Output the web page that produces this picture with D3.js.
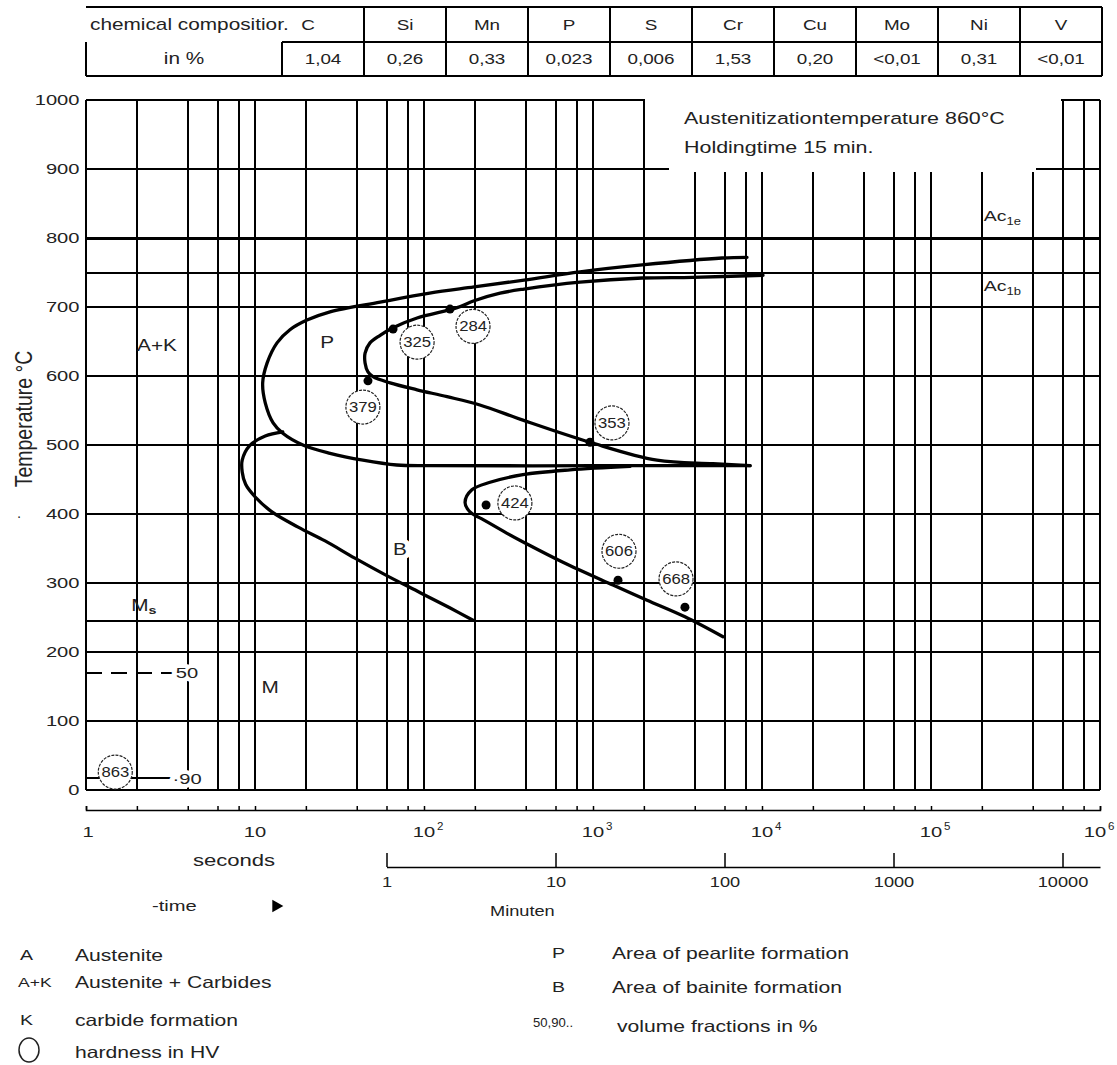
<!DOCTYPE html>
<html><head><meta charset="utf-8">
<script src="https://cdn.jsdelivr.net/npm/d3@7"></script>
<style>
body{margin:0;background:#fff;}
svg text{font-family:"Liberation Sans",Arial,sans-serif;fill:#222;}
</style></head><body>
<svg id="c" width="1117" height="1065"></svg>
<script>
// ---------------- data ----------------
const elements = ["C","Si","Mn","P","S","Cr","Cu","Mo","Ni","V"];
const contents = ["1,04","0,26","0,33","0,023","0,006","1,53","0,20","<0,01","0,31","<0,01"];
const tempTicks = [0,100,200,300,400,500,600,700,800,900,1000];
const tempGrid = [100,200,300,400,500,600,700,900];
const timeGrid = [1,2,4,6,8,10,20,40,60,80,100,200,400,600,800,1e3,2e3,4e3,6e3,8e3,1e4,2e4,4e4,6e4,8e4,1e5,2e5,4e5,6e5,8e5,1e6];
const decadeLabels = [1,10,100,1e3,1e4,1e5,1e6];
const minuteTicks = [1,10,100,1000,10000];
const Ac1e = 800, Ac1b = 750, Ms = 245;
const vol50 = 170, vol90 = 17;
// curves: [time s, temperature °C]
const pearliteStart = [[8150,772],[5800,771],[1950,761],[838,751],[391,739],[198,729],[108,720],[55,707],[27.8,693],[20.3,681],[16.1,667],[13.5,648],[11.8,619],[11.1,590],[11.5,561],[12.8,532],[14.6,517],[19.2,500],[27.8,488],[43.5,478],[69,471],[108,470],[1000,470],[8500,470]];
const pearliteFinish = [[10140,746],[3900,743],[1950,742],[838,736],[391,726],[282,720],[198,709],[157,699],[91,684],[65.6,670],[55,659],[47.9,648],[44.8,633],[44.8,619],[46.6,606],[49.9,599],[63,590],[91,580],[137,570],[214,558],[385,536],[960,504],[2390,478],[5130,473],[8500,470]];
const bainiteStart = [[14.6,519],[11.5,513],[9.3,499],[8.4,478],[8.4,461],[8.8,443],[10,425],[12.6,403],[18,381],[26,361],[39,336],[61,310],[95,286],[142,264],[195,246]];
const bainiteFinish = [[1655,469],[731,464],[385,457],[246,446],[192,435],[175,417],[187,403],[220,393],[310,372],[396,358],[664,330],[1313,297],[2090,275],[3500,251],[5880,222]];
const hardness = [
  {hv:"325", t:91, T:649},{hv:"284", t:195, T:672},{hv:"379", t:43.5, T:555},
  {hv:"353", t:1295, T:532},{hv:"424", t:345, T:416},{hv:"606", t:1425, T:346},
  {hv:"668", t:3100, T:306},{hv:"863", t:1.49, T:26}];
const measurePoints = [[65.6,668],[142.5,697],[46.6,593],[960,504],[233,413],[1406,304],[3500,265]];
const regionLabels = [{s:"A+K", t:2.63, T:644},{s:"P", t:26.7, T:648},{s:"B", t:72, T:348},{s:"M", t:12.3, T:149}];
const legendLeft = [["A","Austenite"],["A+K","Austenite + Carbides"],["K","carbide formation"],["","hardness in HV"]];
const legendRight = [["P","Area of pearlite formation"],["B","Area of bainite formation"],["50,90..","volume fractions in %"]];

// ---------------- layout ----------------
const SX = 1.3;
const svg = d3.select("#c");
const x = d3.scaleLog().domain([1,1e6]).range([86,1100]);
const y = d3.scaleLinear().domain([0,1000]).range([790,100]);
const ink = "#000";
const GW = 2;

function txt(g, px, py, s, o={}) {
  const t = g.append("text")
    .attr("transform", `translate(${px},${py}) scale(${o.sx ?? SX},1)`)
    .attr("font-size", o.fs ?? 16)
    .attr("text-anchor", o.anchor ?? "start")
    .attr("dy", o.dy ?? "0.35em")
    .text(s);
  if (o.halo) t.attr("stroke","#fff").attr("stroke-width",o.halo).attr("paint-order","stroke").attr("stroke-linejoin","round");
  if (o.fill) t.attr("fill", o.fill);
  if (o.weight) t.attr("font-weight", o.weight);
  return t;
}

// ---------------- table ----------------
const tb = svg.append("g");
const tL = 86, tLab = 282, colW = 82, tTop = 7, tMid = 42, tBot = 76;
const tR = tLab + colW*elements.length;
const tline = (x1,y1,x2,y2) => tb.append("line").attr("x1",x1).attr("y1",y1).attr("x2",x2).attr("y2",y2).attr("stroke",ink).attr("stroke-width",2);
tline(tL,tTop,tR,tTop); tline(tLab,tMid,tR,tMid); tline(tL,tBot,tR,tBot);
tline(tL,tMid,tL,tBot); tline(tLab,tMid,tLab,tBot);
elements.forEach((e,i)=>{ tline(tLab+colW*(i+1),tTop,tLab+colW*(i+1),tBot); });
txt(tb, 90, (tTop+tMid)/2, "chemical compositior.", {fs:16});
txt(tb, (tL+tLab)/2, (tMid+tBot)/2-1, "in %", {fs:16, anchor:"middle"});
elements.forEach((e,i)=>{
  const cx = i===0 ? tLab+26 : tLab+colW*i+colW/2;
  txt(tb, cx, (tTop+tMid)/2, e, {fs:14.5, anchor:"middle"});
  txt(tb, tLab+colW*i+colW/2, (tMid+tBot)/2, contents[i], {fs:14.5, anchor:"middle"});
});

// ---------------- grid ----------------
const grid = svg.append("g").attr("shape-rendering","crispEdges");
grid.selectAll(".v").data(timeGrid).join("line")
  .attr("x1",d=>x(d)).attr("x2",d=>x(d)).attr("y1",y(0)).attr("y2",y(1000))
  .attr("stroke",ink).attr("stroke-width",GW);
grid.selectAll(".h").data([0,...tempGrid,1000,Ms,Ac1b]).join("line")
  .attr("x1",x(1)).attr("x2",x(1e6)).attr("y1",d=>y(d)).attr("y2",d=>y(d))
  .attr("stroke",ink).attr("stroke-width",GW);
// mask behind the title text
grid.append("rect").attr("x",x(2000)+1.5).attr("y",y(1000)-4)
  .attr("width",x(6e5)-x(2000)-3).attr("height",y(900)-y(1000)+2.5).attr("fill","#fff");
grid.append("rect").attr("x",x(2800)).attr("y",y(900)-2)
  .attr("width",x(4.2e5)-x(2800)).attr("height",4.5).attr("fill","#fff");
// Ac1e thick line
grid.append("line").attr("x1",x(1)).attr("x2",x(1e6)).attr("y1",y(Ac1e)).attr("y2",y(Ac1e))
  .attr("stroke","#000").attr("stroke-width",3);

// volume fraction lines
grid.append("line").attr("x1",x(1)).attr("x2",x(3.5)).attr("y1",y(vol50)).attr("y2",y(vol50))
  .attr("stroke",ink).attr("stroke-width",GW).attr("stroke-dasharray","16,9");
grid.append("line").attr("x1",x(1)).attr("x2",x(3.5)).attr("y1",y(vol90)).attr("y2",y(vol90))
  .attr("stroke",ink).attr("stroke-width",GW);

// title
txt(svg, 684, 118, "Austenitizationtemperature 860°C", {fs:16.5});
txt(svg, 684, 147, "Holdingtime 15 min.", {fs:16.5});

// ---------------- curves ----------------
const line = d3.line().x(d=>x(d[0])).y(d=>y(d[1])).curve(d3.curveCatmullRom.alpha(0.5));
const cg = svg.append("g").attr("fill","none").attr("stroke","#000").attr("stroke-width",3.3).attr("stroke-linecap","round").attr("stroke-linejoin","round");
[pearliteStart, pearliteFinish, bainiteStart, bainiteFinish].forEach(c=>cg.append("path").attr("d",line(c)));

// hardness circles
const hg = svg.append("g");
hardness.forEach(h=>{
  hg.append("circle").attr("cx",x(h.t)).attr("cy",y(h.T)).attr("r",17)
    .attr("fill","#fff").attr("stroke","#222").attr("stroke-width",1.2).attr("stroke-dasharray","3,1.2");
  txt(hg, x(h.t), y(h.T), h.hv, {fs:14.5, sx:1.15, anchor:"middle", fill:"#333"});
});
svg.append("g").selectAll("circle").data(measurePoints).join("circle")
  .attr("cx",d=>x(d[0])).attr("cy",d=>y(d[1])).attr("r",4.5).attr("fill","#000");

// region labels
regionLabels.forEach(r=>txt(svg, x(r.t), y(r.T), r.s, {fs:16, anchor:"middle", fill:"#333", halo: r.s==="B"?9:0}));
// Ms label
const msT = svg.append("text").attr("transform",`translate(${x(1.85)},${y(Ms)-10}) scale(${SX},1)`).attr("font-size",16).attr("fill","#333");
msT.append("tspan").text("M");
msT.append("tspan").attr("font-size",11).attr("dy",3).attr("font-weight","bold").text("s");
// Ac labels
[[Ac1e,"1e",-17],[Ac1b,"1b",18]].forEach(([v,sub,off])=>{
  const t = svg.append("text").attr("transform",`translate(${x(2.05e5)},${y(v)+off}) scale(${SX},1)`).attr("font-size",15).attr("fill","#333");
  t.append("tspan").text("Ac");
  t.append("tspan").attr("font-size",10).attr("dy",4).text(sub);
});
// volume labels
txt(svg, x(3.4), y(vol50), "50", {fs:15.5, halo:8});
txt(svg, x(3.25), y(vol90), "·90", {fs:15.5, halo:8});

// ---------------- axes ----------------
const ya = svg.append("g").attr("transform",`translate(${x(1)},0)`)
  .call(d3.axisLeft(y).tickValues(tempTicks).tickSize(0).tickPadding(5).tickFormat(d3.format("d")));
ya.select(".domain").remove();
ya.selectAll("text").attr("font-size",15.5).attr("font-family","Liberation Sans, Arial, sans-serif").attr("fill","#333")
  .attr("transform",`scale(${SX},1)`);

// Y label
svg.append("text").attr("transform",`translate(24,419) scale(1.2,1) rotate(-90)`)
  .attr("font-size",19.5).attr("text-anchor","middle").attr("dy","0.35em").attr("fill","#333").text("Temperature °C");
svg.append("text").attr("transform",`translate(19,516)`).attr("font-size",14).attr("text-anchor","middle").attr("dy","0.35em").attr("fill","#555").text("·");

// seconds axis
const secY = 810;
svg.append("g").attr("transform",`translate(0,${secY})`)
  .call(d3.axisBottom(x).tickValues(timeGrid).tickSizeInner(-4).tickSizeOuter(-4).tickFormat(""))
  .call(g=>g.selectAll("path,line").attr("stroke",ink).attr("stroke-width",1.5));
const dl = svg.append("g");
decadeLabels.forEach(d=>{
  const e = Math.round(Math.log10(d));
  if (e < 2) txt(dl, x(d)+(e===0?2:0), secY+22, String(d), {fs:15.5, anchor:"middle", fill:"#333"});
  else {
    const sh = e===6 ? -5 : 0;
    txt(dl, x(d)+sh, secY+22, "10", {fs:15.5, anchor:"middle", fill:"#333"});
    txt(dl, x(d)+sh+13, secY+16, String(e), {fs:10.5, sx:1.1, fill:"#333"});
  }
});
txt(svg, 234, 860, "seconds", {fs:17, anchor:"middle", fill:"#222"});

// minutes axis
const xm = d3.scaleLog().domain([1,1e6/60]).range([x(60),x(1e6)]);
const ma = svg.append("g").attr("transform",`translate(0,867)`)
  .call(d3.axisBottom(xm).tickValues(minuteTicks).tickSizeInner(-14).tickSizeOuter(0).tickPadding(10).tickFormat(d3.format("d")));
ma.selectAll("path,line").attr("stroke",ink).attr("stroke-width",1.5);
ma.selectAll("text").attr("font-size",14).attr("font-family","Liberation Sans, Arial, sans-serif").attr("fill","#333")
  .attr("transform",`scale(${SX},1)`);
txt(svg, 490, 911, "Minuten", {fs:14, fill:"#333"});
txt(svg, 152, 906, "-time", {fs:15.5, fill:"#222"});
svg.append("path").attr("d",d3.symbol(d3.symbolTriangle,70)()).attr("transform","translate(276,906) rotate(90)").attr("fill","#000");

// ---------------- legend ----------------
const lg = svg.append("g");
const lRows = [955, 982, 1020, 1052];
legendLeft.forEach((r,i)=>{
  if (r[0]) txt(lg, r[0]==="A+K"?18:20, lRows[i], r[0], {fs: r[0]==="A+K"?13.5:15, fill:"#444"});
  txt(lg, 75, lRows[i], r[1], {fs:16.5, sx:1.28, fill:"#222"});
});
lg.append("ellipse").attr("cx",29).attr("cy",lRows[3]-2).attr("rx",10).attr("ry",12).attr("fill","#fff").attr("stroke","#222").attr("stroke-width",1.5);
const rRows = [953, 987, 1024];
legendRight.forEach((r,i)=>{
  txt(lg, i===2?533:552, rRows[i]-(i===2?1:0), r[0], {fs: i===2?12.5:15, sx: i===2?1.05:SX, fill:"#444"});
  txt(lg, i===2?617:612, rRows[i]+(i===2?2:0), r[1], {fs:16.5, sx:1.28, fill:"#222"});
});
</script>
</body></html>
